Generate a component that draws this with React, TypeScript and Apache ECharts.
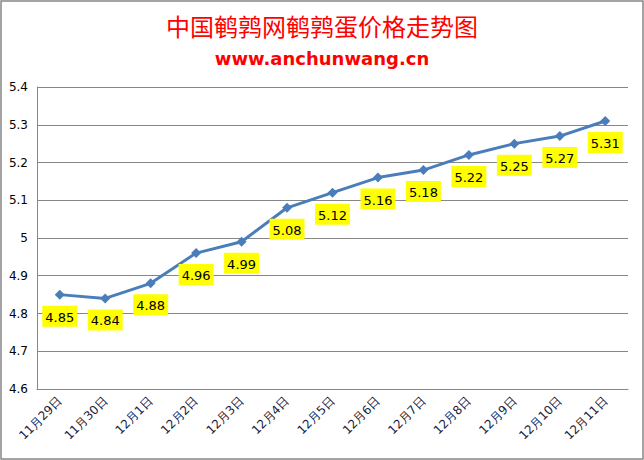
import React, { useEffect, useRef } from "react";
import * as echarts from "echarts";

const titleText = "中国鹌鹑网鹌鹑蛋价格走势图";
const subtitleText = "www.anchunwang.cn";
const categories = [
  "11月29日", "11月30日", "12月1日", "12月2日", "12月3日", "12月4日", "12月5日",
  "12月6日", "12月7日", "12月8日", "12月9日", "12月10日", "12月11日",
];
const prices = [4.85, 4.84, 4.88, 4.96, 4.99, 5.08, 5.12, 5.16, 5.18, 5.22, 5.25, 5.27, 5.31];
const yMin = 4.6;
const yMax = 5.4;
const yStep = 0.1;

export default function App() {
  const ref = useRef<HTMLDivElement>(null);
  useEffect(() => {
    document.body.style.margin = "0";
    const chart = echarts.init(ref.current!, null, { renderer: "svg" });
    chart.setOption({
      animation: false,
      backgroundColor: "#ffffff",
      title: [
        {
          text: titleText,
          left: "center",
          top: 8,
          textStyle: { color: "#ff0000", fontSize: 24, fontWeight: "normal", fontFamily: "Noto Sans CJK SC" },
        },
        {
          text: subtitleText,
          left: "center",
          top: 44,
          textStyle: { color: "#ff0000", fontSize: 18, fontWeight: "bold", fontFamily: "DejaVu Sans" },
        },
      ],
      graphic: [
        {
          type: "rect",
          shape: { x: 1, y: 1, width: 642, height: 458 },
          style: { fill: "none", stroke: "#878787", lineWidth: 1.5 },
          silent: true,
        },
      ],
      grid: { left: 37, right: 16, top: 87, bottom: 71, containLabel: false },
      xAxis: {
        type: "category",
        data: categories,
        boundaryGap: true,
        axisLine: { show: true, lineStyle: { color: "#878787", width: 1 } },
        axisTick: { show: false },
        axisLabel: {
          rotate: 45,
          margin: 10,
          interval: 0,
          color: "#1c1c3c",
          fontSize: 12,
          fontFamily: "DejaVu Sans",
        },
      },
      yAxis: {
        type: "value",
        min: yMin,
        max: yMax,
        interval: yStep,
        axisLine: { show: true, lineStyle: { color: "#878787", width: 1 } },
        axisTick: { show: false },
        splitLine: { show: true, lineStyle: { color: "#878787", width: 1 } },
        axisLabel: {
          margin: 9,
          color: "#000000",
          fontSize: 12,
          fontFamily: "DejaVu Sans",
          formatter: (v: number) => String(Math.round(v * 10) / 10),
        },
      },
      series: [
        {
          type: "line",
          data: prices,
          lineStyle: { color: "#4a7ebb", width: 3 },
          itemStyle: { color: "#4a7ebb" },
          symbol: "diamond",
          symbolSize: 10,
          label: {
            show: true,
            position: "bottom",
            distance: 6,
            color: "#000000",
            backgroundColor: "#ffff00",
            padding: [5, 3, 3, 3],
            fontSize: 13,
            fontFamily: "DejaVu Sans",
            formatter: (p: any) => p.value.toFixed(2),
          },
        },
      ],
    });
    return () => chart.dispose();
  }, []);
  return <div ref={ref} style={{ width: 644, height: 460 }} />;
}
